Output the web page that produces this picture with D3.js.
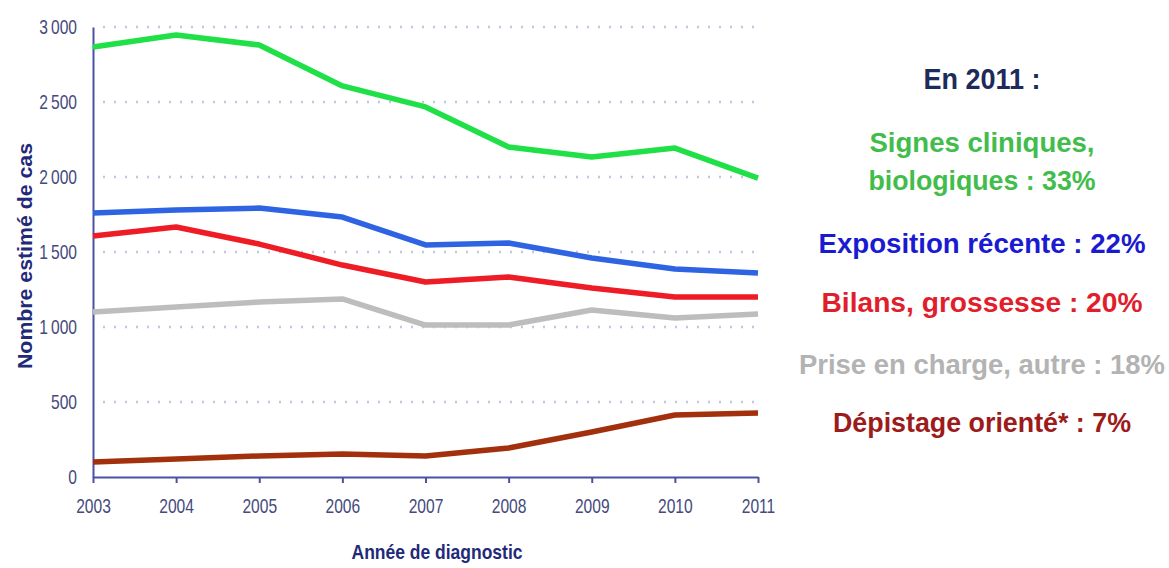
<!DOCTYPE html>
<html>
<head>
<meta charset="utf-8">
<script src="https://cdn.jsdelivr.net/npm/d3@7"></script>
<style>
  body { margin: 0; background: #fff; }
  text { font-family: "Liberation Sans", Arial, sans-serif; }
</style>
</head>
<body>
<div id="chart"></div>
<script>
// data
let years = [2003, 2004, 2005, 2006, 2007, 2008, 2009, 2010, 2011];
let signes = [2867, 2947, 2880, 2607, 2467, 2200, 2133, 2193, 1993];
let exposition = [1760, 1780, 1793, 1733, 1547, 1560, 1460, 1387, 1360];
let bilans = [1607, 1667, 1553, 1413, 1300, 1333, 1260, 1200, 1200];
let priseEnCharge = [1100, 1133, 1167, 1187, 1013, 1013, 1113, 1060, 1087];
let depistage = [100, 120, 140, 153, 140, 193, 300, 413, 427];
let yTicks = [0, 500, 1000, 1500, 2000, 2500, 3000];

let seriesNames = ["signes", "exposition", "bilans", "prise", "depistage"];
let seriesValues = [signes, exposition, bilans, priseEnCharge, depistage];
let lineColors = ["#1fe046", "#2e64e2", "#ee1c24", "#bdbdbd", "#a2300c"];

let legendLines = [
    "En 2011 :",
    "Signes cliniques,",
    "biologiques : 33%",
    "Exposition récente : 22%",
    "Bilans, grossesse : 20%",
    "Prise en charge, autre : 18%",
    "Dépistage orienté* : 7%"
];
let legendColors = ["#1c2b5a", "#42bd4c", "#42bd4c", "#1a1ad0", "#e01e2c", "#b3b3b3", "#9c1b1b"];

let svgWidth = 1169;
let svgHeight = 568;

let margin = {
    top: 27,
    right: 411,
    bottom: 91,
    left: 93
};

let width = svgWidth - margin.left - margin.right;
let height = svgHeight - margin.top - margin.bottom;

let svg = d3.select("#chart")
    .append("svg")
    .attr("width", svgWidth)
    .attr("height", svgHeight);

let chartGroup = svg.append("g")
    .attr("transform", `translate(${margin.left}, ${margin.top})`);

let xScale = d3.scaleLinear()
    .domain([2003, 2011])
    .range([0, width]);

let yScale = d3.scaleLinear()
    .domain([0, 3000])
    .range([height, 0]);

// dotted gridlines
chartGroup.append("g")
    .selectAll("line")
    .data(yTicks.filter(d => d > 0))
    .enter()
    .append("line")
    .attr("x1", 10)
    .attr("x2", width)
    .attr("y1", d => yScale(d))
    .attr("y2", d => yScale(d))
    .attr("stroke", "#bcc8e4")
    .attr("stroke-width", 2.5)
    .attr("stroke-dasharray", "2,9");

// axes
let axisColor = "#4b52a3";
let labelColor = "#454a7c";
let squeeze = 0.78;

let xAxis = d3.axisBottom(xScale)
    .tickValues(years)
    .tickFormat(d3.format("d"))
    .tickSize(6)
    .tickSizeOuter(0);

let yAxis = d3.axisLeft(yScale)
    .tickValues(yTicks)
    .tickFormat(d => d >= 1000 ? d3.format(",")(d).replace(",", "\u2009") : d)
    .tickSize(0);

let xg = chartGroup.append("g")
    .attr("transform", `translate(0, ${height})`)
    .call(xAxis);

xg.select(".domain").attr("stroke", axisColor).attr("stroke-width", 2);
xg.selectAll(".tick line").attr("stroke", axisColor).attr("stroke-width", 2);
xg.selectAll(".tick text")
    .attr("fill", labelColor)
    .attr("font-size", "20px")
    .attr("y", 22)
    .attr("transform", `scale(${squeeze},1)`);

let yg = chartGroup.append("g")
    .call(yAxis);

yg.select(".domain").attr("stroke", axisColor).attr("stroke-width", 2);
yg.selectAll(".tick text")
    .attr("fill", labelColor)
    .attr("font-size", "20px")
    .attr("x", -16 / squeeze)
    .attr("transform", `scale(${squeeze},1)`);

// lines
let line = d3.line()
    .x((d, i) => xScale(years[i]))
    .y(d => yScale(d));

chartGroup.selectAll(".series")
    .data(seriesValues)
    .enter()
    .append("path")
    .attr("class", (d, i) => "series " + seriesNames[i])
    .attr("d", d => line(d))
    .attr("fill", "none")
    .attr("stroke", (d, i) => lineColors[i])
    .attr("stroke-width", 5.5)
    .attr("stroke-linejoin", "round");

// axis titles
svg.append("text")
    .attr("transform", "translate(32, 256) rotate(-90)")
    .attr("text-anchor", "middle")
    .attr("font-weight", "bold")
    .attr("font-size", "21px")
    .attr("textLength", 226)
    .attr("lengthAdjust", "spacingAndGlyphs")
    .attr("fill", "#1f2a78")
    .text("Nombre estimé de cas");

svg.append("text")
    .attr("x", 437)
    .attr("y", 559)
    .attr("text-anchor", "middle")
    .attr("font-weight", "bold")
    .attr("font-size", "21px")
    .attr("textLength", 171)
    .attr("lengthAdjust", "spacingAndGlyphs")
    .attr("fill", "#1f2a78")
    .text("Année de diagnostic");

// legend on the right
let legendY = [89, 152, 190, 253, 312, 374, 432];
let legendLengths = [117, 225, 227, 327, 321, 366, 298];

svg.append("g")
    .selectAll("text")
    .data(legendLines)
    .enter()
    .append("text")
    .attr("x", 982)
    .attr("y", (d, i) => legendY[i])
    .attr("text-anchor", "middle")
    .attr("font-weight", "bold")
    .attr("font-size", (d, i) => i === 0 ? "29px" : "27px")
    .attr("textLength", (d, i) => legendLengths[i])
    .attr("lengthAdjust", "spacingAndGlyphs")
    .attr("fill", (d, i) => legendColors[i])
    .text(d => d);
</script>
</body>
</html>
